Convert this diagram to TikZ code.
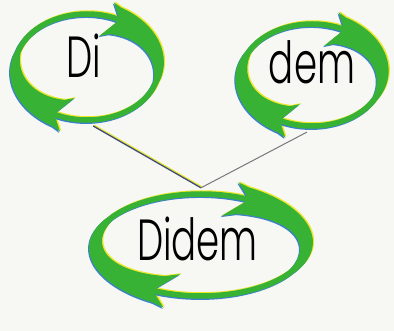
\documentclass[tikz,border=0pt]{standalone}
\usepackage{fontspec}
\usetikzlibrary{shapes.geometric}
\newfontfamily\wordfont{Poppins Light}[FakeStretch=0.64]
\definecolor{cyclegreen}{RGB}{56,178,52}
\definecolor{printyellow}{RGB}{236,232,40}
\definecolor{printblue}{RGB}{60,130,200}
\definecolor{paper}{RGB}{247,247,244}
\definecolor{linkblue}{RGB}{60,78,120}
\definecolor{linkgray}{RGB}{120,120,120}

\begin{document}
\begin{tikzpicture}[x=1bp, y=1bp,
    word/.style={font=\wordfont\fontsize{58bp}{58bp}\selectfont, inner sep=0pt, anchor=base},
    ring/.style={ellipse, inner sep=0pt, draw=none},
    link/.style={line width=1.3bp}]

    % Paper
    \fill[paper] (0,0) rectangle (394,331);
    \useasboundingbox (0,0) rectangle (394,331);

    % Rings of two arrows: name / centre / radii / tip angle
    \foreach \nm/\cx/\cy/\ra/\rb/\tend in {di/87/264/72/53/-15, dem/312/256/71/51/-25, didem/201/86/106/51/-30}{
        \node[ring, minimum width={(2*\ra+10)*1bp}, minimum height={(2*\rb+12)*1bp}] (\nm) at (\cx,\cy) {};
        \foreach \dx/\dy/\col in {1.2/1/printyellow, -1/-1.2/printblue, 0/0/cyclegreen}{
            \begin{scope}[shift={(\dx,\dy)}]
            \draw[\col, line width=5.5bp] (\cx,\cy) ellipse [x radius=\ra, y radius=\rb];
            \foreach \rot in {0,180}{
                \pgfmathsetmacro\ta{66+\rot}
                \pgfmathsetmacro\tb{\tend+\rot}
                % head: outer barb, outer edge, tip, inner edge, inner barb, notch
                \fill[\col]
                    ({\cx+(\ra+15)*cos(\ta+6)},{\cy+(\rb+15)*sin(\ta+6)})
                    -- plot[domain=\ta:\tb, samples=30, variable=\ang]
                       ({\cx+(\ra+3+9*(\ang-\tb)/(\ta-\tb))*cos(\ang)},{\cy+(\rb+3+9*(\ang-\tb)/(\ta-\tb))*sin(\ang)})
                    -- plot[domain=\tb:\ta, samples=30, variable=\ang]
                       ({\cx+(\ra-3-14*(\ang-\tb)/(\ta-\tb))*cos(\ang)},{\cy+(\rb-3-14*(\ang-\tb)/(\ta-\tb))*sin(\ang)})
                    -- ({\cx+(\ra-21)*cos(\ta+10)},{\cy+(\rb-21)*sin(\ta+10)})
                    -- ({\cx+\ra*cos(\ta-3)},{\cy+\rb*sin(\ta-3)})
                    -- cycle;
            }
            \end{scope}
        }
    }

    % Words
    \node[word] (di text) at (84,254) {Di};
    \node[word] (dem text) at (312,248) {dem};
    \node[word] (didem text) at (197.5,71) {Didem};

    % Links
    \draw[printyellow, link] ([shift={(1,0.8)}]di.-84) -- ([shift={(1,0.8)}]didem.north);
    \draw[linkblue, link] (di.-84) -- (didem.north);
    \draw[linkgray, line width=1bp] (dem.-95) -- (didem.north);

\end{tikzpicture}
\end{document}
